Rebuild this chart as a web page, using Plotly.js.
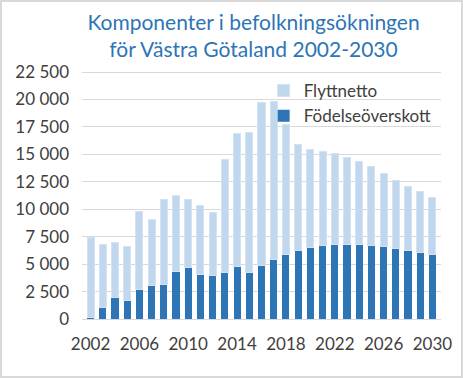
<!DOCTYPE html>
<html><head><meta charset="utf-8">
<script src="https://cdn.plot.ly/plotly-3.0.1.min.js"></script>
<style>html,body{margin:0;padding:0;background:#fff}#c{width:463px;height:378px;box-sizing:border-box;border:2px solid #d9d9d9}</style>
</head><body><div id="c"></div>
<script>
const years = [2002,2003,2004,2005,2006,2007,2008,2009,2010,2011,2012,2013,2014,2015,2016,2017,2018,2019,2020,2021,2022,2023,2024,2025,2026,2027,2028,2029,2030];
const fodelseoverskott = [150,1060,1940,1730,2730,3090,3150,4360,4730,4090,3950,4240,4760,4210,4910,5390,5910,6240,6480,6670,6790,6790,6820,6730,6640,6450,6270,6060,5910];
const totals = [7430,6790,6940,6640,9790,9060,10880,11300,10880,10330,9700,14520,16880,17030,19730,19850,17730,15880,15480,15300,15060,14700,14360,13880,13240,12640,12030,11600,11060];
const flyttnetto = totals.map((t,i)=>t-fodelseoverskott[i]);
const yTicks = [0,2500,5000,7500,10000,12500,15000,17500,20000,22500];
const xTicks = [2002,2006,2010,2014,2018,2022,2026,2030];

const font = "Lato, 'Open Sans', sans-serif";
const traces = [
  {type:'bar', name:'Födelseöverskott', x:years, y:fodelseoverskott, marker:{color:'#2e75b6'}},
  {type:'bar', name:'Flyttnetto', x:years, y:flyttnetto, marker:{color:'#c0d7ee', line:{color:'#d3e3f4', width:1}}}
];
const layout = {
  width:459, height:374,
  margin:{l:80, r:20, t:69, b:57},
  barmode:'stack', bargap:0.42,
  separators:', ',
  paper_bgcolor:'#fff', plot_bgcolor:'#fff',
  font:{family:font, size:17, color:'#404040'},
  title:{text:'Komponenter i befolkningsökningen<br>för Västra Götaland 2002-2030', font:{family:font, size:21, color:'#2e75b6'}, x:0.548, xref:'container', xanchor:'center', y:0.925, yref:'container', yanchor:'top'},
  xaxis:{tickmode:'array', tickvals:xTicks, ticktext:xTicks.map(String), range:[2001.3,2030.7], showgrid:false, showline:true, linecolor:'#d9d9d9', linewidth:1, ticks:'', ticklabelstandoff:10, tickfont:{size:17, color:'#404040'}},
  yaxis:{tickmode:'array', tickvals:yTicks, range:[0,22600], tickformat:',d', showgrid:true, gridcolor:'#d9d9d9', gridwidth:1, zeroline:false, showline:false, ticks:'', ticklabelstandoff:12, tickfont:{size:17, color:'#404040'}},
  legend:{x:0.506, y:0.992, xanchor:'left', yanchor:'top', bgcolor:'rgba(0,0,0,0)', font:{size:17, color:'#404040'}, traceorder:'reversed', itemwidth:30, tracegroupgap:8}
};
Plotly.newPlot('c', traces, layout, {displayModeBar:false, staticPlot:true});
</script></body></html>
